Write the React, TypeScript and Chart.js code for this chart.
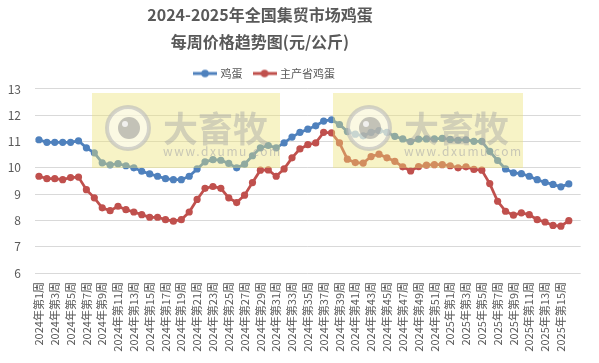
import React, { useEffect, useRef } from "react";
import { Chart, registerables } from "chart.js";

Chart.register(...registerables);

// ---------- data ----------
const weeks2024 = 52;
const weeks2025 = 16;
const categories: string[] = [];
for (let w = 1; w <= weeks2024; w++) categories.push(`2024年第${w}周`);
for (let w = 1; w <= weeks2025; w++) categories.push(`2025年第${w}周`);

const seriesNames = ["鸡蛋", "主产省鸡蛋"];

const eggPrices = [
  11.07, 10.97, 10.97, 10.97, 10.97, 11.03, 10.76, 10.57, 10.19, 10.11,
  10.16, 10.08, 10.0, 9.87, 9.77, 9.68, 9.59, 9.55, 9.55, 9.68,
  9.96, 10.23, 10.31, 10.29, 10.17, 10.0, 10.14, 10.46, 10.76, 10.85,
  10.76, 10.95, 11.17, 11.35, 11.47, 11.6, 11.78, 11.83, 11.65, 11.38,
  11.28, 11.22, 11.35, 11.42, 11.35, 11.2, 11.1, 11.0, 11.09, 11.1,
  11.1, 11.12, 11.08, 11.05, 11.07, 11.01, 11.01, 10.63, 10.28, 9.96,
  9.81, 9.78, 9.68, 9.55, 9.45, 9.37, 9.28, 9.39,
];

const mainProvincePrices = [
  9.68, 9.59, 9.59, 9.55, 9.63, 9.65, 9.17, 8.86, 8.48, 8.37,
  8.54, 8.41, 8.32, 8.22, 8.12, 8.12, 8.03, 7.97, 8.03, 8.32,
  8.8, 9.22, 9.29, 9.22, 8.86, 8.68, 8.96, 9.44, 9.91, 9.92,
  9.68, 9.96, 10.38, 10.72, 10.88, 10.95, 11.35, 11.33, 10.95, 10.33,
  10.2, 10.18, 10.43, 10.52, 10.38, 10.25, 10.04, 9.88, 10.05, 10.1,
  10.12, 10.12, 10.08, 10.0, 10.04, 9.94, 9.91, 9.4, 8.73, 8.35,
  8.2, 8.29, 8.22, 8.03, 7.94, 7.81, 7.78, 7.99,
];

const yMin = 6;
const yMax = 13;
const yStep = 1;

const titleLines = ["2024-2025年全国集贸市场鸡蛋", "每周价格趋势图(元/公斤)"];
const watermarkName = "大畜牧";
const watermarkUrl = "www.dxumu.com";

// ---------- styles ----------
const BLUE = "#4F81BD";
const RED = "#C0504D";
const TEXT = "#595959";
const GRID = "#D9D9D9";
const FONT = "'Noto Sans CJK SC', 'Noto Sans', sans-serif";

function legendImage(color: string): HTMLCanvasElement {
  const c = document.createElement("canvas");
  c.width = 24;
  c.height = 10;
  const g = c.getContext("2d")!;
  g.strokeStyle = color;
  g.lineWidth = 3;
  g.beginPath();
  g.moveTo(0, 5);
  g.lineTo(24, 5);
  g.stroke();
  g.fillStyle = color;
  g.beginPath();
  g.arc(12, 5, 3.8, 0, Math.PI * 2);
  g.fill();
  return c;
}

const WATERMARKS = [
  { x: 92, y: 93, w: 188, h: 75 },
  { x: 333, y: 93, w: 190, h: 75 },
];

const watermarkPlugin = {
  id: "watermark",
  afterDatasetsDraw(chart: any) {
    const ctx: CanvasRenderingContext2D = chart.ctx;
    ctx.save();
    for (const wm of WATERMARKS) {
      ctx.fillStyle = "rgba(236,226,118,0.42)";
      ctx.fillRect(wm.x, wm.y, wm.w, wm.h);
      const cx = wm.x + 36;
      const cy = wm.y + 35;
      ctx.beginPath();
      ctx.arc(cx, cy, 21, 0, Math.PI * 2);
      ctx.fillStyle = "rgba(255,255,255,0.5)";
      ctx.fill();
      ctx.lineWidth = 4;
      ctx.strokeStyle = "rgba(185,185,185,0.6)";
      ctx.stroke();
      ctx.beginPath();
      ctx.arc(cx + 1, cy, 11, 0, Math.PI * 2);
      ctx.fillStyle = "rgba(140,140,140,0.5)";
      ctx.fill();
      ctx.beginPath();
      ctx.arc(cx - 3, cy - 4, 3, 0, Math.PI * 2);
      ctx.fillStyle = "rgba(255,255,255,0.75)";
      ctx.fill();
      ctx.fillStyle = "rgba(165,165,165,0.45)";
      ctx.textBaseline = "middle";
      ctx.textAlign = "left";
      ctx.font = `bold 35px ${FONT}`;
      ctx.fillText(watermarkName, wm.x + 71, wm.y + 36);
      ctx.font = `12px ${FONT}`;
      (ctx as any).letterSpacing = "1.6px";
      ctx.fillStyle = "rgba(170,170,170,0.6)";
      ctx.fillText(watermarkUrl, wm.x + 71, wm.y + 58);
      (ctx as any).letterSpacing = "0px";
    }
    ctx.restore();
  },
};

const shiftPlugin = {
  id: "shiftHeader",
  afterLayout(chart: any) {
    const t = chart.titleBlock;
    if (t) {
      t.left = 0;
      t.right = 520;
    }
    const l = chart.legend;
    if (l) {
      l.left = 0;
      l.right = 530;
    }
  },
};

export default function App() {
  const ref = useRef<HTMLCanvasElement | null>(null);

  useEffect(() => {
    if (!ref.current) return;
    const images = [legendImage(BLUE), legendImage(RED)];
    const chart = new Chart(ref.current, {
      type: "line",
      data: {
        labels: [...categories, ""],
        datasets: [
          {
            label: seriesNames[0],
            data: eggPrices,
            borderColor: BLUE,
            backgroundColor: BLUE,
            pointBackgroundColor: BLUE,
            pointBorderColor: BLUE,
            borderWidth: 2.75,
            pointRadius: 3.6,
            pointBorderWidth: 0,
            tension: 0,
          },
          {
            label: seriesNames[1],
            data: mainProvincePrices,
            borderColor: RED,
            backgroundColor: RED,
            pointBackgroundColor: RED,
            pointBorderColor: RED,
            borderWidth: 2.75,
            pointRadius: 3.6,
            pointBorderWidth: 0,
            tension: 0,
          },
        ],
      },
      options: {
        responsive: false,
        animation: false,
        devicePixelRatio: 1,
        layout: { padding: { left: 0, right: 12, top: 0, bottom: 0 } },
        plugins: {
          tooltip: { enabled: false },
          title: {
            display: true,
            text: titleLines,
            color: TEXT,
            font: { family: FONT, size: 16, weight: "bold", lineHeight: 1.656 },
            padding: { top: 2, bottom: 1 },
          },
          legend: {
            display: true,
            position: "top",
            labels: {
              color: TEXT,
              font: { family: FONT, size: 11 },
              usePointStyle: true,
              pointStyleWidth: 20,
              padding: 12,
              generateLabels: (ch: any) => {
                const base = Chart.defaults.plugins.legend.labels.generateLabels(ch);
                return base.map((it: any, i: number) => ({
                  ...it,
                  pointStyle: images[i],
                  fontColor: TEXT,
                }));
              },
            },
          },
        },
        scales: {
          x: {
            type: "category",
            offset: true,
            grid: { display: false, drawTicks: false },
            border: { display: false },
            ticks: {
              autoSkip: false,
              maxRotation: 90,
              minRotation: 90,
              padding: 9,
              color: TEXT,
              font: { family: FONT, size: 11 },
              callback: function (this: any, _v: any, i: number) {
                const lbl = (this as any).getLabelForValue(i);
                return i % 2 === 0 ? lbl : "";
              },
            },
            afterFit: (s: any) => {
              s.height = 90;
            },
          },
          y: {
            min: yMin,
            max: yMax,
            grid: { color: GRID, lineWidth: 1, drawTicks: false },
            border: { display: false },
            ticks: {
              stepSize: yStep,
              padding: 14,
              color: TEXT,
              font: { family: FONT, size: 12 },
            },
            afterFit: (s: any) => {
              s.width = 35;
            },
          },
        },
      },
      plugins: [watermarkPlugin, shiftPlugin],
    } as any);
    return () => chart.destroy();
  }, []);

  return (
    <div style={{ position: "fixed", left: 0, top: 0, width: 599, height: 363, background: "#fff" }}>
      <canvas ref={ref} width={599} height={363} style={{ width: 599, height: 363, display: "block" }} />
    </div>
  );
}
